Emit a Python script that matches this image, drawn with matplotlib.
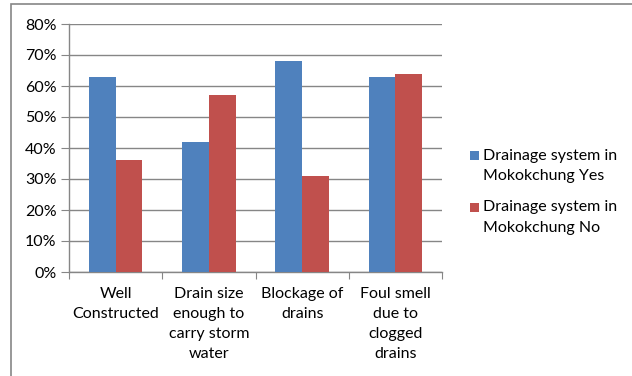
import numpy as np
import matplotlib.pyplot as plt
from matplotlib.patches import Rectangle
from matplotlib.ticker import FixedLocator, FuncFormatter

plt.rcParams['font.family'] = ['Lato', 'DejaVu Sans']

categories = ['Well\nConstructed', 'Drain size\nenough to\ncarry storm\nwater',
              'Blockage of\ndrains', 'Foul smell\ndue to\nclogged\ndrains']
yes_values = [63, 42, 68, 63]
no_values = [36, 57, 31, 64]
series_names = ['Drainage system in\nMokokchung Yes', 'Drainage system in\nMokokchung No']
series_colors = ['#4F81BD', '#C0504D']

grey = '#868686'
W, H = 632, 376
fig = plt.figure(figsize=(W / 100, H / 100), dpi=100)
ax = fig.add_axes([69 / W, 104 / H, 373 / W, 248 / H])

# outer chart border
fig.patches.append(Rectangle((11 / W, -0.05), 1.1, 1.05 - 4 / H, transform=fig.transFigure,
                             fill=False, edgecolor=grey, linewidth=1.2))

centers = np.arange(len(categories)) + 0.5
w = 1 / 3.5
ax.bar(centers - w / 2, yes_values, w, color=series_colors[0], zorder=3)
ax.bar(centers + w / 2, no_values, w, color=series_colors[1], zorder=3)

ax.set_xlim(0, len(categories))
ax.set_ylim(0, 80)
ax.yaxis.set_major_locator(FixedLocator(range(0, 81, 10)))
ax.yaxis.set_major_formatter(FuncFormatter(lambda v, p: f'{v:.0f}%'))
ax.grid(axis='y', color=grey, linewidth=1, zorder=0)

ax.set_xticks(np.arange(len(categories) + 1))
ax.set_xticklabels([])
ax.set_xticks(centers, minor=True)
ax.set_xticklabels(categories, minor=True, ha='center', va='top', linespacing=1.55)
ax.tick_params(axis='x', which='major', length=5, color=grey, direction='out')
ax.tick_params(axis='x', which='minor', length=0, pad=11, labelsize=11.5, colors='black')
ax.tick_params(axis='y', length=6, color=grey, labelsize=11.5, pad=3)

for s in ['top', 'right']:
    ax.spines[s].set_visible(False)
for s in ['left', 'bottom']:
    ax.spines[s].set_color(grey)
    ax.spines[s].set_linewidth(1)

# legend: square aligned with the first line of each two-line label
for name, color, y_sq, y_txt in zip(series_names, series_colors, [155.5, 207.5], [166, 217.5]):
    fig.patches.append(Rectangle(((474 - 4.5) / W, 1 - (y_sq + 4.5) / H), 9 / W, 9 / H,
                                 transform=fig.transFigure, facecolor=color, edgecolor='none'))
    fig.text(483 / W, 1 - y_txt / H, name, fontsize=11.5, ha='left', va='center',
             linespacing=1.55)

fig.savefig('out.png', dpi=100)
